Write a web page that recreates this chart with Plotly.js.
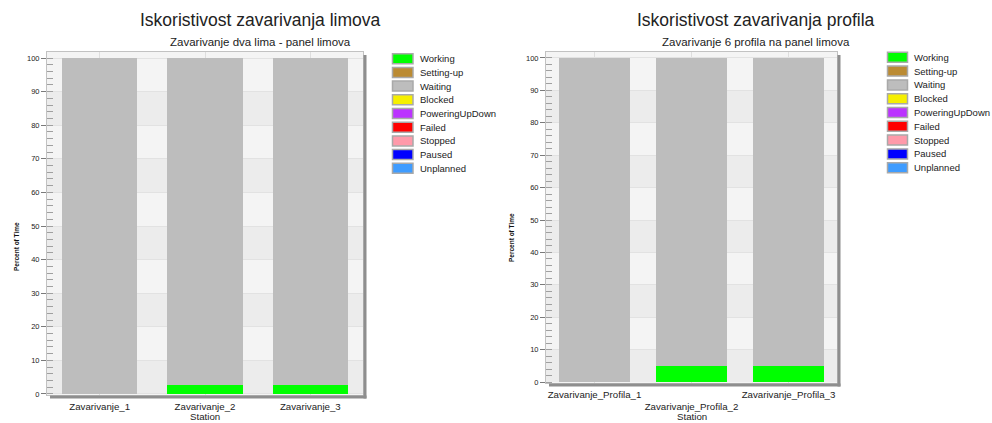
<!DOCTYPE html>
<html>
<head>
<meta charset="utf-8">
<script src="https://cdn.plot.ly/plotly-3.0.1.min.js"></script>
<style>
html,body{margin:0;padding:0;background:#fff;}
#wrap{display:flex;width:992px;height:423px;overflow:hidden;}
#c1,#c2{width:496px;height:423px;overflow:visible;position:relative;}
#c1{z-index:2;}
#c2{z-index:1;}
.js-plotly-plot .plotly .main-svg{overflow:visible !important;}
.js-plotly-plot .plotly, .js-plotly-plot .plot-container, .svg-container{overflow:visible !important;}
</style>
</head>
<body>
<div id="wrap"><div id="c1"></div><div id="c2"></div></div>
<script>
// ---- data ----
const seriesNames = ["Working","Setting-up","Waiting","Blocked","PoweringUpDown","Failed","Stopped","Paused","Unplanned"];
const seriesColors = ["#00ff00","#bb8b33","#bdbdbd","#f6ef00","#bb33ff","#ff0000","#ff9aaa","#0000ff","#3f9cff"];

const title1 = "Iskoristivost zavarivanja limova";
const subtitle1 = "Zavarivanje dva lima - panel limova";
const stations1 = ["Zavarivanje_1","Zavarivanje_2","Zavarivanje_3"];
const working1 = [0, 2.6, 2.6];
const waiting1 = [100, 97.4, 97.4];

const title2 = "Iskoristivost zavarivanja profila";
const subtitle2 = "Zavarivanje 6 profila na panel limova";
const stations2 = ["Zavarivanje_Profila_1","Zavarivanje_Profila_2","Zavarivanje_Profila_3"];
const working2 = [0, 5.1, 5.1];
const waiting2 = [100, 94.9, 94.9];

const yTitle = "Percent of Time";
const xTitle = "Station";
const yTicks = [0,10,20,30,40,50,60,70,80,90,100];

const FONT = "Liberation Sans, Arial, sans-serif";

function seriesValues(name, working, waiting, n){
  if (name === "Working") return working;
  if (name === "Waiting") return waiting;
  return new Array(n).fill(0);
}

function build(div, cfg){
  const W = 496, H = 423;
  const m = cfg.margin;
  const pw = W - m.l - m.r, ph = H - m.t - m.b;
  const px = p => (p - m.l) / pw;
  const py = p => 1 - (p - m.t) / ph;

  const traces = seriesNames.map((nm, i) => ({
    type: "bar",
    name: nm,
    x: cfg.stations,
    y: seriesValues(nm, cfg.working, cfg.waiting, cfg.stations.length),
    marker: {color: seriesColors[i], line: {width: 0}},
    showlegend: false,
    hoverinfo: "skip"
  }));

  const shapes = [];
  // alternating horizontal bands
  for (let k = 0; k < yTicks.length - 1; k += 2) {
    shapes.push({type:"rect", xref:"x domain", yref:"y", x0:0, x1:1,
      y0:yTicks[k], y1:yTicks[k+1], fillcolor:"#ececec", line:{width:0}, layer:"below"});
  }
  // frame shadow (right & bottom)
  shapes.push({type:"rect", xref:"x domain", yref:"y domain",
    x0:1 + 0.5/pw, x1:1 + 3.5/pw, y0:-3.5/ph, y1:1 - 3/ph,
    fillcolor:"#8e8e8e", line:{width:0}, layer:"above"});
  shapes.push({type:"rect", xref:"x domain", yref:"y domain",
    x0:3/pw, x1:1 + 3.5/pw, y0:-3.5/ph, y1:-0.5/ph,
    fillcolor:"#8e8e8e", line:{width:0}, layer:"above"});

  const annotations = [
    {text: cfg.title, xref:"paper", yref:"paper", x:px(260), y:py(20), xanchor:"center", yanchor:"middle",
     showarrow:false, font:{family:FONT, size:17.5, color:"#222"}},
    {text: cfg.subtitle, xref:"paper", yref:"paper", x:px(260), y:py(41.5), xanchor:"center", yanchor:"middle",
     showarrow:false, font:{family:FONT, size:11.5, color:"#222"}},
    {text: xTitle, xref:"paper", yref:"paper", x:0.5, y:py(422.8), xanchor:"center", yanchor:"bottom",
     borderpad:0, showarrow:false, font:{family:FONT, size:9.7, color:"#222"}},
    {text: "<b>" + yTitle + "</b>", xref:"paper", yref:"paper", x:px(cfg.yTitleX), y:py(cfg.yTitleY),
     xanchor:"center", yanchor:"middle", textangle:-90,
     showarrow:false, font:{family:FONT, size:6.5, color:"#111"}}
  ];

  // custom legend
  seriesNames.forEach((nm, i) => {
    const cy = cfg.legTop + i * cfg.legStep;
    shapes.push({type:"rect", xref:"paper", yref:"paper",
      x0:px(cfg.legSwX0), x1:px(cfg.legSwX1), y0:py(cy + 5), y1:py(cy - 5),
      fillcolor:seriesColors[i], line:{color:"#a9a9a9", width:1.5}, layer:"above"});
    annotations.push({text:nm, xref:"paper", yref:"paper", x:px(cfg.legTextX), y:py(cy),
      xanchor:"left", yanchor:"middle", showarrow:false,
      font:{family:FONT, size:9.5, color:"#222"}});
  });

  const ticktext = cfg.stations.map((s, i) => (cfg.stagger && i % 2 === 1) ? "<br>" + s : s);

  const layout = {
    width: W, height: H,
    margin: {l:m.l, r:m.r, t:m.t, b:m.b, pad:0},
    paper_bgcolor: "rgba(0,0,0,0)",
    plot_bgcolor: "#f4f4f4",
    barmode: "stack",
    bargap: cfg.bargap,
    showlegend: false,
    font: {family: FONT, color:"#222"},
    xaxis: {
      type:"category", range:[-0.5, cfg.stations.length - 0.5],
      tickvals: cfg.stations, ticktext: ticktext, tickangle:0,
      showgrid:true, gridcolor:"#dedede", gridwidth:1,
      ticks:"outside", ticklen:2, tickcolor:"#8c8c8c",
      showline:true, mirror:true, linecolor:"#c2c2c2", linewidth:1,
      zeroline:false, tickfont:{family:FONT, size:9.7, color:"#222"}
    },
    yaxis: {
      range:[-0.3, cfg.ymax], tickvals: yTicks,
      showgrid:true, gridcolor:"#e2e2e2", gridwidth:1,
      ticks:"outside", ticklen:5, tickcolor:"#7a7a7a",
      minor:{dtick:2, tick0:0, ticks:"inside", ticklen:6, tickcolor:"#a0a0a0", showgrid:false},
      showline:true, mirror:true, linecolor:"#c2c2c2", linewidth:1,
      zeroline:false, tickfont:{family:FONT, size:7.5, color:"#222"}
    },
    shapes: shapes,
    annotations: annotations
  };
  Plotly.newPlot(div, traces, layout, {displayModeBar:false, staticPlot:true});
}

build("c1", {
  title:title1, subtitle:subtitle1, stations:stations1, working:working1, waiting:waiting1,
  margin:{l:47, r:133, t:52, b:28}, ymax:101.8, bargap:0.286, stagger:false,
  yTitleX:16, yTitleY:247,
  legTop:58.7, legStep:13.7, legSwX0:392.5, legSwX1:413, legTextX:418
});
build("c2", {
  title:title2, subtitle:subtitle2, stations:stations2, working:working2, waiting:waiting2,
  margin:{l:50, r:155, t:52, b:40}, ymax:101.85, bargap:0.27, stagger:true,
  yTitleX:15, yTitleY:238,
  legTop:57.3, legStep:13.8, legSwX0:391.5, legSwX1:411.5, legTextX:416
});
</script>
</body>
</html>
